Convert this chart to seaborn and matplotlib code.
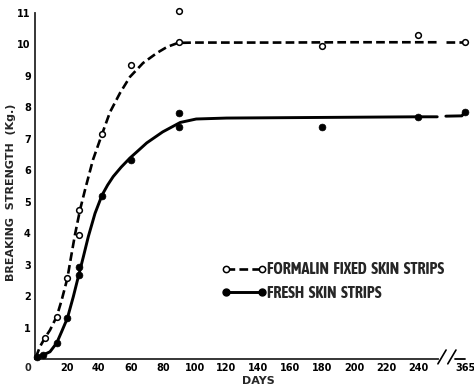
import numpy as np
import matplotlib
matplotlib.use("Agg")
import matplotlib.pyplot as plt
import seaborn as sns
from matplotlib.lines import Line2D
from matplotlib import font_manager
from matplotlib.font_manager import FontProperties

# ---- data ----
formalin_days = [6.3, 13.6, 20.3, 27.8, 27.8, 42, 60, 90, 90, 180, 240, 365]
formalin_kg = [0.68, 1.35, 2.57, 3.94, 4.74, 7.15, 9.35, 11.07, 10.08, 9.95, 10.3, 10.08]
fresh_days = [1.5, 5.2, 13.6, 20.3, 27.8, 27.8, 42, 60, 90, 90, 180, 240, 365]
fresh_kg = [0.05, 0.13, 0.51, 1.3, 2.67, 2.93, 5.18, 6.33, 7.38, 7.82, 7.38, 7.69, 7.85]

formalin_curve_days = [0.5, 3.1, 6.3, 9.4, 13.6, 16.7, 20.3, 22.6, 25, 28.2, 31.3, 36.3,
                       42, 47, 53.3, 59.5, 67.7, 76.4, 82.7, 89.6, 100, 150, 200, 252]
formalin_curve_kg = [0.05, 0.39, 0.68, 0.92, 1.35, 1.87, 2.57, 3.25, 3.94, 4.74, 5.37, 6.33,
                     7.15, 7.85, 8.46, 8.97, 9.41, 9.73, 9.92, 10.05, 10.06, 10.06, 10.07, 10.07]
formalin_tail_days = [353, 365]
formalin_tail_kg = [10.08, 10.08]

fresh_curve_days = [1, 5.2, 9.4, 13.6, 16.7, 20.3, 24, 27.8, 30.3, 33.4, 37.6, 42, 45.5, 49,
                    54, 59.5, 65, 70, 80, 91, 101, 120, 180, 240, 252]
fresh_curve_kg = [0.07, 0.13, 0.23, 0.51, 0.87, 1.30, 1.98, 2.75, 3.25, 3.89, 4.63, 5.21, 5.53,
                  5.80, 6.10, 6.39, 6.64, 6.87, 7.22, 7.52, 7.63, 7.66, 7.68, 7.70, 7.70]
fresh_tail_days = [353, 363, 365]
fresh_tail_kg = [7.72, 7.73, 7.85]

x_ticks = [20, 40, 60, 80, 100, 120, 140, 160, 180, 200, 220, 240, 365]
x_tick_labels = [str(t) for t in x_ticks]
y_ticks = list(range(1, 12))
y_tick_labels = [str(t) for t in y_ticks]

legend_labels = ["FORMALIN  FIXED  SKIN  STRIPS", "FRESH  SKIN  STRIPS"]

# ---- broken x scale ----
BREAK = 256.0
SHIFT = 95.6


def fwd(d):
    d = np.asarray(d, dtype=float)
    return np.where(d <= BREAK, d, np.maximum(d - SHIFT, BREAK))


def inv(p):
    p = np.asarray(p, dtype=float)
    return np.where(p <= BREAK, p, p + SHIFT)


sns.set_style("white")
plt.rcParams["font.family"] = ["DejaVu Sans"]

# choose a condensed bold face for the legend if one is installed
fonts = font_manager.fontManager.ttflist
legend_prop = None
for f in fonts:
    nm = f.name.lower()
    if ("narrow" in nm or "condensed" in nm) and f.weight in ("bold", 700, "700"):
        legend_prop = FontProperties(fname=f.fname, size=11.6)
        break
if legend_prop is None:
    for f in fonts:
        if f.name == "DejaVu Sans" and str(f.stretch).lower() in ("condensed", "semi-condensed") \
                and f.weight in ("bold", 700):
            legend_prop = FontProperties(fname=f.fname, size=11.6)
            break
if legend_prop is None:
    legend_prop = FontProperties(family="DejaVu Sans", weight="bold", size=8.2)

fig = plt.figure(figsize=(4.74, 3.90), dpi=100)
ax = fig.add_axes([35 / 474, 31 / 390, 430 / 474, 346 / 390])
ax.set_xscale("function", functions=(fwd, inv))
ax.set_xlim(0, 365)
ax.set_ylim(0, 11)

DASH = (0, (3.3, 1.6))
LW = 1.9

sns.lineplot(x=formalin_curve_days, y=formalin_curve_kg, ax=ax, color="black",
             lw=LW, linestyle=DASH, estimator=None, sort=False)
sns.lineplot(x=formalin_tail_days, y=formalin_tail_kg, ax=ax, color="black",
             lw=LW, linestyle=DASH, estimator=None, sort=False)
sns.lineplot(x=fresh_curve_days, y=fresh_curve_kg, ax=ax, color="black",
             lw=2.1, estimator=None, sort=False)
sns.lineplot(x=fresh_tail_days, y=fresh_tail_kg, ax=ax, color="black",
             lw=2.1, estimator=None, sort=False)

sns.scatterplot(x=formalin_days, y=formalin_kg, ax=ax, marker="o", s=17, zorder=4,
                clip_on=False)
c = ax.collections[-1]
c.set_facecolor("white"); c.set_edgecolor("black"); c.set_linewidth(1.1)
sns.scatterplot(x=fresh_days, y=fresh_kg, ax=ax, marker="o", s=24, zorder=4,
                clip_on=False)
c = ax.collections[-1]
c.set_facecolor("black"); c.set_edgecolor("black"); c.set_linewidth(0.5)

for ln in ax.lines:
    ln.set_clip_on(False)
    ln.set_solid_joinstyle("round")
    ln.set_dash_joinstyle("round")

# axes styling
for s in ["top", "right"]:
    ax.spines[s].set_visible(False)
ax.spines["left"].set_linewidth(1.3)
ax.spines["bottom"].set_linewidth(1.3)
ax.spines["bottom"].set_bounds(0, 252.5)

ax.set_xticks(x_ticks)
ax.set_xticklabels(x_tick_labels)
ax.set_yticks(y_ticks)
ax.set_yticklabels(y_tick_labels)
ax.tick_params(axis="x", direction="in", length=7, width=1.2, pad=3,
               labelsize=7, colors="black")
ax.tick_params(axis="y", direction="in", length=6, width=1.2, pad=3,
               labelsize=7, colors="black")
for lab in ax.get_xticklabels() + ax.get_yticklabels():
    lab.set_fontweight("bold")

# axis break marks and tail of x axis
kw = dict(transform=ax.transAxes, color="black", lw=1.2, clip_on=False)
ax.plot([0.937, 0.956], [-0.014, 0.026], **kw)
ax.plot([0.960, 0.979], [-0.014, 0.026], **kw)
ax.plot([0.977, 1.0], [0, 0], color="black", lw=1.3, transform=ax.transAxes, clip_on=False)

ax.annotate("0", xy=(0, 0), xycoords="data", xytext=(-5, -3), textcoords="offset points",
            ha="center", va="top", fontsize=7, fontweight="bold")

fig.text(11 / 474, 1 - 192 / 390, "BREAKING  STRENGTH  (Kg.)", rotation=90,
         ha="center", va="center", fontsize=8, fontweight="bold")
fig.text(258 / 474, 1 - 381 / 390, "DAYS", ha="center", va="center",
         fontsize=8, fontweight="bold")

handles = [
    Line2D([], [], color="black", lw=LW, linestyle=DASH, marker="o", markersize=4.5,
           markerfacecolor="white", markeredgecolor="black", markeredgewidth=1.1),
    Line2D([], [], color="black", lw=2.1, marker="o", markersize=5,
           markerfacecolor="black", markeredgecolor="black"),
]
leg = ax.legend(handles, legend_labels, numpoints=2, frameon=False, loc="upper left",
                bbox_to_anchor=(0.432, 0.282), borderpad=0, borderaxespad=0,
                handlelength=2.85, handletextpad=0.05, labelspacing=0.45,
                prop=legend_prop)

fig.savefig("out.png", dpi=100)
